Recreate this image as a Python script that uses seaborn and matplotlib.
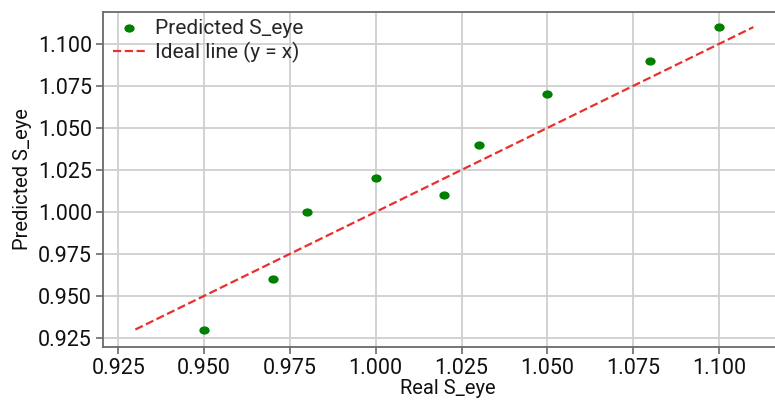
import numpy as np
import pandas as pd
import seaborn as sns
import matplotlib.pyplot as plt
from matplotlib.path import Path

# values
real_s_eye = [0.95, 0.97, 0.98, 1.00, 1.02, 1.03, 1.05, 1.08, 1.10]
pred_s_eye = [0.93, 0.96, 1.00, 1.02, 1.01, 1.04, 1.07, 1.09, 1.11]
ideal_x = [0.93, 1.11]
ideal_y = [0.93, 1.11]

xticks = [0.925, 0.950, 0.975, 1.000, 1.025, 1.050, 1.075, 1.100]
yticks = [0.925, 0.950, 0.975, 1.000, 1.025, 1.050, 1.075, 1.100]

sns.set_theme(style="whitegrid")
plt.rcParams['font.family'] = ['Roboto', 'DejaVu Sans']

df = pd.DataFrame({"real": real_s_eye, "pred": pred_s_eye})
ideal = pd.DataFrame({"x": ideal_x, "y": ideal_y})

# slightly wide dot like in the picture
circ = Path.unit_circle()
oval = Path(circ.vertices * [1.25, 1.0], circ.codes)

fig = plt.figure(figsize=(7.75, 4), dpi=100)
ax = fig.add_axes([0.133, 0.1325, 0.89, 0.8375])

sns.scatterplot(data=df, x="real", y="pred", color="green", s=55, marker=oval,
                edgecolor="green", linewidth=0, label="Predicted S_eye", ax=ax)
sns.lineplot(data=ideal, x="x", y="y", color="#e8302c", linestyle="--",
             linewidth=1.6, label="Ideal line (y = x)", ax=ax)

ax.set_xlim(0.9206, 1.1215)
ax.set_ylim(0.9196, 1.119)
ax.set_xticks(xticks)
ax.set_yticks(yticks)
ax.set_xticklabels([f"{t:.3f}" for t in xticks])
ax.set_yticklabels([f"{t:.3f}" for t in yticks])

ax.grid(True, color="#cfcfcf", linewidth=1.3)
for side in ["left", "bottom", "top"]:
    ax.spines[side].set_color("#6a6a6a")
    ax.spines[side].set_linewidth(1.3)
ax.spines["right"].set_visible(False)

ax.tick_params(axis="both", labelsize=15.5, colors="#6a6a6a", labelcolor="#111111",
               length=5, width=1.2, direction="out", bottom=True, left=True, pad=3)

ax.set_xlabel("Real S_eye", fontsize=14.5, color="#111111", labelpad=0)
ax.set_ylabel("Predicted S_eye", fontsize=14.5, color="#111111", labelpad=4)

leg = ax.legend(loc="upper left", frameon=False, fontsize=15,
                borderaxespad=0.0, handlelength=1.5, handletextpad=0.5,
                labelspacing=0.2, borderpad=0.0, bbox_to_anchor=(0.015, 0.98))

fig.savefig("out.png", dpi=100)
